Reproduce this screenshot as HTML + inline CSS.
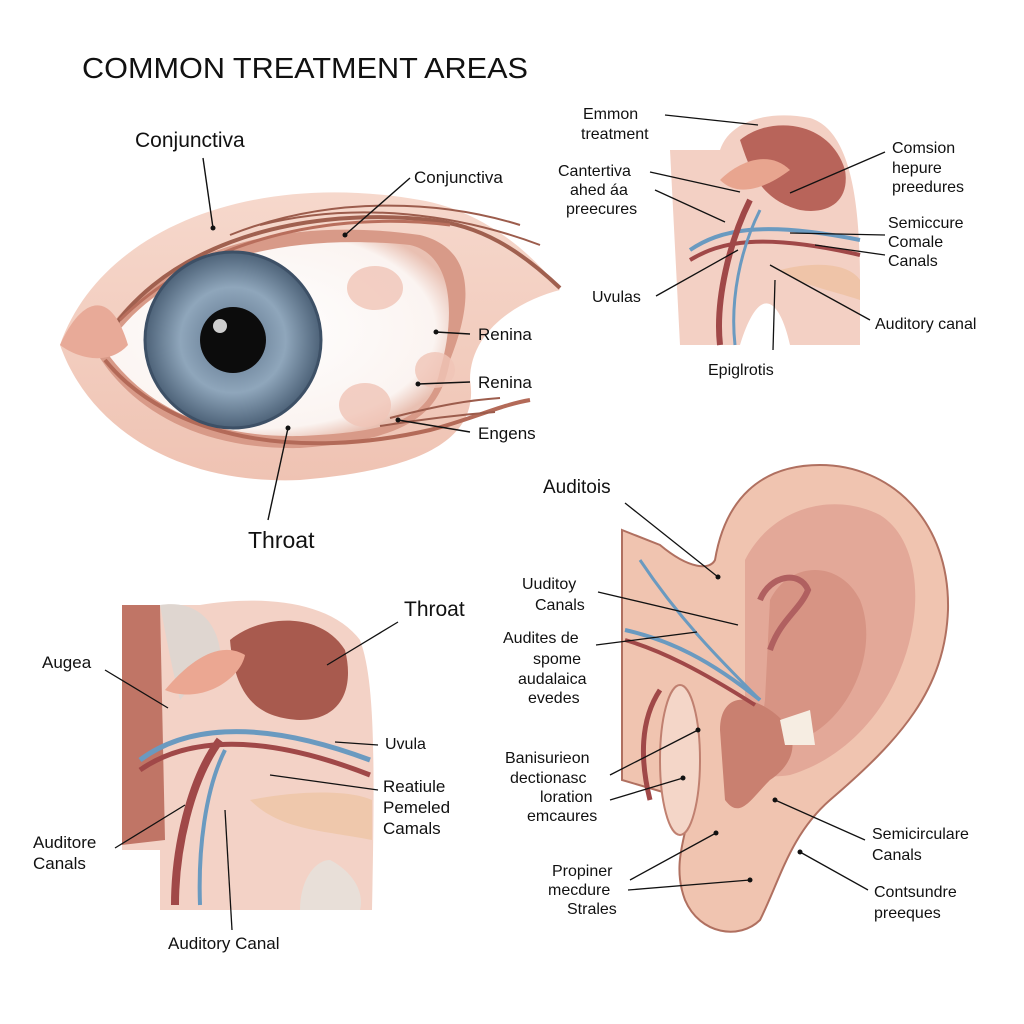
<!DOCTYPE html>
<html><head><meta charset="utf-8"><style>
html,body{margin:0;padding:0;background:#fff}
svg{display:block}
text{font-family:"Liberation Sans",sans-serif;fill:#111}
</style></head><body>
<svg width="1024" height="1024" viewBox="0 0 1024 1024" xmlns="http://www.w3.org/2000/svg">
<rect width="1024" height="1024" fill="#fff"/>
<defs>
<radialGradient id="iris" cx="50%" cy="50%" r="50%">
<stop offset="0" stop-color="#5a7088"/><stop offset="0.6" stop-color="#8fa6bb"/><stop offset="1" stop-color="#4d6278"/></radialGradient>
<radialGradient id="scl" cx="45%" cy="45%" r="60%">
<stop offset="0" stop-color="#ffffff"/><stop offset="0.85" stop-color="#fbf4f1"/><stop offset="1" stop-color="#e9c0b2"/></radialGradient>
<linearGradient id="skin" x1="0" y1="0" x2="0" y2="1"><stop offset="0" stop-color="#f6d8cc"/><stop offset="1" stop-color="#efc3b3"/></linearGradient>
</defs>

<text x="82" y="78" font-size="29" textLength="446" lengthAdjust="spacingAndGlyphs">COMMON TREATMENT AREAS</text>

<!-- EYE -->
<path d="M60,345 C100,230 250,170 420,200 C480,210 530,250 560,290 C520,300 470,330 470,380 C480,440 420,470 300,480 C180,485 90,430 60,345 Z" fill="url(#skin)"/>
<path d="M95,350 C150,250 280,215 420,235 C480,250 470,310 450,360 C440,420 400,440 300,448 C200,450 130,410 95,350 Z" fill="#d89a88"/>
<path d="M105,350 C160,262 280,232 410,245 C455,255 455,320 440,370 C430,420 390,432 300,436 C200,438 140,400 105,350 Z" fill="url(#scl)"/>
<path d="M100,350 C150,250 290,205 430,220 C480,225 520,250 560,288" fill="none" stroke="#a0604f" stroke-width="4"/>
<path d="M120,320 C200,240 330,210 450,225" fill="none" stroke="#b86e5c" stroke-width="3"/>
<path d="M105,360 C170,440 300,460 430,430 C470,420 500,405 530,400" fill="none" stroke="#b36a58" stroke-width="4"/>
<path d="M60,345 C80,300 110,285 128,345 C110,365 80,360 60,345Z" fill="#e8aa98"/>
<ellipse cx="375" cy="288" rx="28" ry="22" fill="#f0c4b6" opacity="0.8"/>
<ellipse cx="435" cy="370" rx="20" ry="18" fill="#f0c4b6" opacity="0.8"/>
<ellipse cx="365" cy="405" rx="26" ry="22" fill="#f0c4b6" opacity="0.8"/>
<circle cx="233" cy="340" r="88" fill="url(#iris)" stroke="#3d5066" stroke-width="3"/>
<circle cx="233" cy="340" r="33" fill="#0c0c0c"/>
<circle cx="220" cy="326" r="7" fill="#fff" opacity="0.8"/>
<path d="M230,235 C330,195 440,200 520,225 M260,225 C360,200 460,215 540,245 M390,418 C440,405 470,400 500,398 M380,426 C430,418 470,414 495,412" fill="none" stroke="#9c5c4c" stroke-width="2"/>

<text x="135" y="147" font-size="21">Conjunctiva</text>
<text x="414" y="183" font-size="17">Conjunctiva</text>
<text x="478" y="340" font-size="17">Renina</text>
<text x="478" y="388" font-size="17">Renina</text>
<text x="478" y="439" font-size="17">Engens</text>
<text x="248" y="548" font-size="23">Throat</text>
<g stroke="#111" stroke-width="1.4" fill="none">
<line x1="203" y1="158" x2="213" y2="228"/>
<line x1="410" y1="178" x2="345" y2="235"/>
<line x1="470" y1="334" x2="436" y2="332"/>
<line x1="470" y1="382" x2="418" y2="384"/>
<line x1="470" y1="432" x2="398" y2="420"/>
<line x1="268" y1="520" x2="288" y2="428"/>
</g>

<!-- TOP RIGHT THROAT -->
<path d="M670,150 L720,150 C730,120 770,110 810,118 C850,130 860,200 860,280 L860,345 L790,345 C780,300 760,280 740,345 L680,345 Z" fill="#f3d0c4"/>
<path d="M740,140 C770,115 830,120 845,170 C850,200 830,215 800,210 C760,200 750,170 740,140Z" fill="#b8645a"/>
<path d="M720,180 C740,160 770,150 790,170 C770,185 740,200 720,180Z" fill="#e8a58f"/>
<path d="M690,250 C720,230 760,220 860,240" fill="none" stroke="#6a9ac0" stroke-width="4"/>
<path d="M690,260 C720,242 760,232 860,255" fill="none" stroke="#a04848" stroke-width="4"/>
<path d="M720,345 C715,300 730,240 750,200" fill="none" stroke="#a04848" stroke-width="6"/>
<path d="M735,345 C730,300 740,250 760,210" fill="none" stroke="#6a9ac0" stroke-width="3"/>
<path d="M780,270 C820,260 850,265 860,280 L860,300 C830,290 800,285 780,270Z" fill="#efc4a8"/>
<text x="583" y="119" font-size="16">Emmon</text>
<text x="581" y="139" font-size="16">treatment</text>
<text x="558" y="176" font-size="16">Cantertiva</text>
<text x="570" y="195" font-size="16">ahed áa</text>
<text x="566" y="214" font-size="16">preecures</text>
<text x="592" y="302" font-size="16">Uvulas</text>
<text x="708" y="375" font-size="16">Epiglrotis</text>
<text x="892" y="153" font-size="16">Comsion</text>
<text x="892" y="173" font-size="16">hepure</text>
<text x="892" y="192" font-size="16">preedures</text>
<text x="888" y="228" font-size="16">Semiccure</text>
<text x="888" y="247" font-size="16">Comale</text>
<text x="888" y="266" font-size="16">Canals</text>
<text x="875" y="329" font-size="16">Auditory canal</text>
<g stroke="#111" stroke-width="1.3" fill="none">
<line x1="665" y1="115" x2="758" y2="125"/>
<line x1="650" y1="172" x2="740" y2="192"/>
<line x1="655" y1="190" x2="725" y2="222"/>
<line x1="656" y1="296" x2="738" y2="250"/>
<line x1="773" y1="350" x2="775" y2="280"/>
<line x1="885" y1="152" x2="790" y2="193"/>
<line x1="885" y1="235" x2="790" y2="233"/>
<line x1="885" y1="255" x2="815" y2="245"/>
<line x1="870" y1="320" x2="770" y2="265"/>
</g>

<!-- BOTTOM LEFT THROAT -->
<path d="M122,605 L200,605 C260,595 330,600 360,640 C375,680 375,760 372,910 L160,910 L160,850 L122,850 Z" fill="#f3d2c6"/>
<path d="M122,605 L160,605 L165,840 L122,845Z" fill="#c07566"/>
<path d="M160,605 C190,600 215,615 220,650 L180,700 C170,660 165,630 160,605Z" fill="#dfd6d0"/>
<path d="M230,640 C260,615 320,610 345,650 C355,690 340,720 300,720 C260,718 235,700 230,640Z" fill="#a85a4e"/>
<path d="M165,690 C190,660 220,640 245,655 C240,680 200,705 165,690Z" fill="#eba792"/>
<path d="M140,760 C180,730 250,715 370,760" fill="none" stroke="#6a9ac0" stroke-width="5"/>
<path d="M140,770 C180,742 250,728 370,775" fill="none" stroke="#a04848" stroke-width="5"/>
<path d="M175,905 C175,850 190,780 220,740" fill="none" stroke="#a04848" stroke-width="8"/>
<path d="M200,905 C198,850 205,790 225,750" fill="none" stroke="#6a9ac0" stroke-width="4"/>
<path d="M250,800 C300,790 350,790 372,800 L372,840 C320,830 280,830 250,800Z" fill="#efc8ac"/>
<path d="M330,860 C350,870 365,890 360,910 L300,910 C300,880 315,860 330,860Z" fill="#e8dfd8"/>
<text x="404" y="616" font-size="21">Throat</text>
<text x="42" y="668" font-size="17">Augea</text>
<text x="385" y="749" font-size="16">Uvula</text>
<text x="383" y="792" font-size="17">Reatiule</text>
<text x="383" y="813" font-size="17">Pemeled</text>
<text x="383" y="834" font-size="17">Camals</text>
<text x="33" y="848" font-size="17">Auditore</text>
<text x="33" y="869" font-size="17">Canals</text>
<text x="168" y="949" font-size="17">Auditory Canal</text>
<g stroke="#111" stroke-width="1.3" fill="none">
<line x1="398" y1="622" x2="327" y2="665"/>
<line x1="105" y1="670" x2="168" y2="708"/>
<line x1="378" y1="745" x2="335" y2="742"/>
<line x1="378" y1="790" x2="270" y2="775"/>
<line x1="115" y1="848" x2="185" y2="805"/>
<line x1="232" y1="930" x2="225" y2="810"/>
</g>

<!-- EAR -->
<path d="M622,530 L660,545 C690,570 710,570 715,560 C725,500 760,465 820,465 C890,465 950,520 948,610 C945,690 900,740 830,800 C790,835 780,880 760,920 C740,940 700,935 685,900 C670,860 690,830 690,800 L622,780 Z" fill="#f0c4b0" stroke="#b07060" stroke-width="2"/>
<path d="M745,560 C770,510 830,490 880,515 C920,540 925,610 900,670 C880,720 840,760 790,775 C760,780 745,770 745,760 Z" fill="#e3a898"/>
<path d="M770,600 C790,560 840,560 860,600 C880,650 850,720 800,740 C770,745 760,730 765,700 Z" fill="#d79484"/>
<path d="M720,730 C720,700 740,690 770,710 C800,730 800,760 770,780 C750,800 740,820 725,800 Z" fill="#c98070"/>
<path d="M760,600 C770,575 800,570 808,590 C800,610 780,620 770,650" fill="none" stroke="#b06060" stroke-width="6"/>
<path d="M780,720 L810,710 L815,745 L785,745Z" fill="#f6ede2"/>
<path d="M625,630 C670,640 710,660 760,700" fill="none" stroke="#6a9ac0" stroke-width="4"/>
<path d="M625,640 C660,650 700,670 755,705" fill="none" stroke="#a04848" stroke-width="4"/>
<path d="M640,560 C680,620 720,660 760,700" fill="none" stroke="#6a9ac0" stroke-width="3"/>
<path d="M650,800 C640,760 640,720 660,690" fill="none" stroke="#a04848" stroke-width="5"/>
<path d="M675,800 C660,760 660,720 680,690" fill="none" stroke="#6a9ac0" stroke-width="4"/>
<ellipse cx="680" cy="760" rx="20" ry="75" fill="#f4d6c8" stroke="#c08070" stroke-width="2"/>
<text x="543" y="493" font-size="19">Auditois</text>
<text x="522" y="589" font-size="16">Uuditoy</text>
<text x="535" y="610" font-size="16">Canals</text>
<text x="503" y="643" font-size="16">Audites de</text>
<text x="533" y="664" font-size="16">spome</text>
<text x="518" y="684" font-size="16">audalaica</text>
<text x="528" y="703" font-size="16">evedes</text>
<text x="505" y="763" font-size="16">Banisurieon</text>
<text x="510" y="783" font-size="16">dectionasc</text>
<text x="540" y="802" font-size="16">loration</text>
<text x="527" y="821" font-size="16">emcaures</text>
<text x="552" y="876" font-size="16">Propiner</text>
<text x="548" y="895" font-size="16">mecdure</text>
<text x="567" y="914" font-size="16">Strales</text>
<text x="872" y="839" font-size="16">Semicirculare</text>
<text x="872" y="860" font-size="16">Canals</text>
<text x="874" y="897" font-size="16">Contsundre</text>
<text x="874" y="918" font-size="16">preeques</text>
<g stroke="#111" stroke-width="1.3" fill="none">
<line x1="625" y1="503" x2="718" y2="577"/>
<line x1="598" y1="592" x2="738" y2="625"/>
<line x1="596" y1="645" x2="697" y2="632"/>
<line x1="610" y1="775" x2="698" y2="730"/>
<line x1="610" y1="800" x2="683" y2="778"/>
<line x1="630" y1="880" x2="716" y2="833"/>
<line x1="628" y1="890" x2="750" y2="880"/>
<line x1="865" y1="840" x2="775" y2="800"/>
<line x1="868" y1="890" x2="800" y2="852"/>
</g>
<g fill="#111">
<circle cx="213" cy="228" r="2.5"/><circle cx="345" cy="235" r="2.5"/><circle cx="436" cy="332" r="2.5"/><circle cx="418" cy="384" r="2.5"/><circle cx="398" cy="420" r="2.5"/><circle cx="288" cy="428" r="2.5"/>
<circle cx="718" cy="577" r="2.5"/><circle cx="698" cy="730" r="2.5"/><circle cx="683" cy="778" r="2.5"/><circle cx="716" cy="833" r="2.5"/><circle cx="750" cy="880" r="2.5"/><circle cx="775" cy="800" r="2.5"/><circle cx="800" cy="852" r="2.5"/>
</g>
</svg>
</body></html>
